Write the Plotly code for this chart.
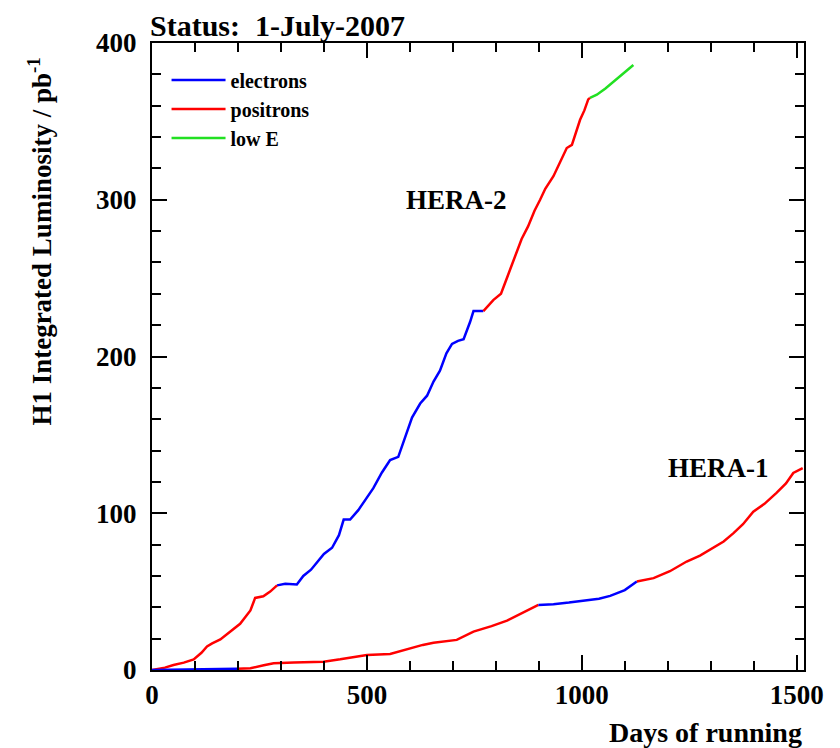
import plotly.graph_objects as go

# HERA-2 segments (days, integrated luminosity pb^-1)
h2_pos1_x = [0, 30, 50, 74, 97, 115, 128, 140, 159, 180, 205, 229, 240, 259, 275, 291]
h2_pos1_y = [0, 1.5, 3.2, 4.7, 6.8, 11, 15, 17, 19.5, 24, 29.5, 38, 46, 47, 50, 54]
h2_ele_x = [291, 310, 337, 352, 370, 384, 400, 419, 435, 446, 461, 480, 500, 515, 535, 554,
            573, 590, 605, 624, 640, 655, 670, 685, 698, 712, 725, 740, 748, 771]
h2_ele_y = [54, 55, 54.5, 60, 64, 69, 74, 78, 86, 96, 96, 102, 110, 116, 126, 134,
            136, 150, 161, 170, 175, 184, 191, 202, 208, 210, 211, 222, 229, 229]
h2_pos2_x = [771, 794, 812, 841, 860, 875, 890, 903, 915, 934, 950, 965, 977, 996, 1006, 1015, 1019]
h2_pos2_y = [229, 236, 240, 262, 275, 283, 293, 300, 307, 315, 324, 333, 335, 351, 357, 364, 365]
h2_lowe_x = [1019, 1035, 1055, 1073, 1095, 1120]
h2_lowe_y = [365, 367, 371, 375, 380, 386]

# HERA-1 segments
h1_ele1_x = [0, 60, 120, 198]
h1_ele1_y = [0, 0.2, 0.4, 0.8]
h1_pos1_x = [198, 229, 260, 283, 330, 399, 438, 470, 500, 554, 593, 630, 655, 709, 748, 790, 826, 860, 899]
h1_pos1_y = [0.8, 1.1, 3, 4.3, 4.8, 5.3, 6.8, 8, 9.6, 10.2, 13.4, 16, 17.4, 19.2, 24.5, 28, 31.5, 36, 41.5]
h1_ele2_x = [899, 934, 970, 1012, 1040, 1066, 1100, 1128]
h1_ele2_y = [41.5, 42, 43, 44.7, 45.5, 47.3, 51, 56.4]
h1_pos2_x = [1128, 1167, 1205, 1244, 1275, 1306, 1330, 1353, 1375, 1399, 1425, 1453, 1475, 1492, 1514]
h1_pos2_y = [56.4, 58.6, 63, 69.2, 73, 77.8, 82, 87.3, 93, 101, 106, 113, 119, 125.7, 128.8]

BLUE = "#0000ff"
RED = "#ff0000"
GREEN = "#22e022"
SERIF = "Liberation Serif, Times New Roman, serif"

fig = go.Figure()

segments = [
    ("electrons", h2_ele_x, h2_ele_y, BLUE, True),
    ("positrons", h2_pos1_x, h2_pos1_y, RED, True),
    ("low E", h2_lowe_x, h2_lowe_y, GREEN, True),
    ("positrons", h2_pos2_x, h2_pos2_y, RED, False),
    ("electrons", h1_ele1_x, h1_ele1_y, BLUE, False),
    ("positrons", h1_pos1_x, h1_pos1_y, RED, False),
    ("electrons", h1_ele2_x, h1_ele2_y, BLUE, False),
    ("positrons", h1_pos2_x, h1_pos2_y, RED, False),
]
for name, xs, ys, col, show in segments:
    fig.add_trace(go.Scatter(x=xs, y=ys, mode="lines", name=name, legendgroup=name,
                             showlegend=show, line=dict(color=col, width=2.5)))

tickfont = dict(family=SERIF, size=27, color="black", weight="bold")

fig.update_xaxes(range=[0, 1517], tick0=0, dtick=500, ticks="inside", ticklen=15, tickwidth=2,
                 tickcolor="black", showline=True, linewidth=2, linecolor="black",
                 mirror="allticks", showgrid=False, zeroline=False, tickfont=tickfont,
                 minor=dict(dtick=100, ticks="inside", ticklen=9, tickwidth=2, tickcolor="black",
                            showgrid=False),
                 ticklabelstandoff=0)
fig.update_yaxes(range=[0, 400], tick0=0, dtick=100, ticks="inside", ticklen=15, tickwidth=2,
                 tickcolor="black", showline=True, linewidth=2, linecolor="black",
                 mirror="allticks", showgrid=False, zeroline=False, tickfont=tickfont,
                 minor=dict(dtick=20, ticks="inside", ticklen=9, tickwidth=2, tickcolor="black",
                            showgrid=False),
                 ticklabelstandoff=8)

fig.add_annotation(text="Status:  1-July-2007", xref="paper", yref="paper", x=-0.005, y=1.0,
                   xanchor="left", yanchor="bottom", showarrow=False, yshift=0, borderpad=0,
                   font=dict(family=SERIF, size=30, color="black", weight="bold"))
fig.add_annotation(text="H1 Integrated Luminosity / pb<sup>-1</sup>", xref="paper", yref="paper",
                   x=-0.172, y=0.683, xanchor="center", yanchor="middle", textangle=-90,
                   showarrow=False, font=dict(family=SERIF, size=27, color="black", weight="bold"))
fig.add_annotation(text="Days of running", xref="paper", yref="paper", x=1.0, y=-0.1,
                   xanchor="right", yanchor="middle", showarrow=False,
                   font=dict(family=SERIF, size=28, color="black", weight="bold"))
fig.add_annotation(text="HERA-2", x=708, y=300, xref="x", yref="y", showarrow=False,
                   font=dict(family=SERIF, size=27, color="black", weight="bold"))
fig.add_annotation(text="HERA-1", x=1317, y=129, xref="x", yref="y", showarrow=False,
                   font=dict(family=SERIF, size=27, color="black", weight="bold"))

fig.update_layout(width=832, height=740, margin=dict(l=144, r=36, t=35, b=78),
                  plot_bgcolor="white", paper_bgcolor="white",
                  legend=dict(x=0.0223, y=0.972, xanchor="left", yanchor="top",
                              bgcolor="rgba(0,0,0,0)", itemwidth=54,
                              font=dict(family=SERIF, size=20, color="black", weight="bold"),
                              tracegroupgap=0))

fig.write_html("out.html")
